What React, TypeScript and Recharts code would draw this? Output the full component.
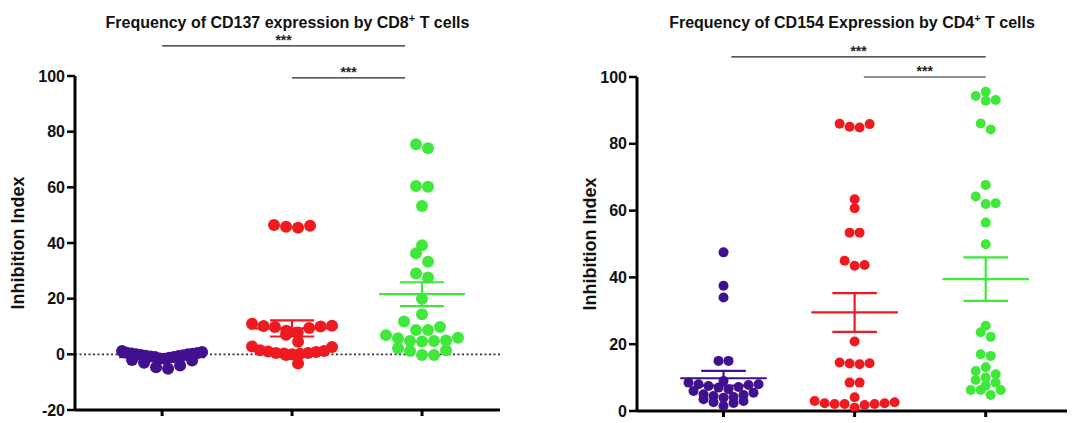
import React from "react";
import { ScatterChart, Scatter, XAxis, YAxis, ReferenceLine } from "recharts";

const GROUP_X = [1, 2, 3];
const GROUP_COLORS = ["#40108f", "#ef1a1f", "#3fe83b"];

// CD137 / CD8+ panel
const CD137_PURPLE = [1.2, 0.8, 0.6, 0.5, 0.3, 0.2, 0, 0, -0.2, -0.3, -0.5, -0.6, -0.8, -1, -1, -1.2, -1.5, -1.6, -2, -2.2, -3, -4, -4.6, -5.2];
const CD137_RED = [46.5, 46.2, 45.8, 45.5, 11, 10.3, 10.2, 10, 9.8, 9.5, 8.5, 7.8, 7, 4.5, 2.8, 2.6, 1.5, 1.2, 1, 0.8, 0.5, 0.5, 0.3, 0.2, 0, -0.2, -3.3];
const CD137_GREEN = [75.5, 74, 60.5, 60.2, 53.3, 39.2, 36.3, 33.3, 29, 27.6, 20, 14.4, 11.8, 9.8, 8.7, 8.7, 6.9, 6, 5.8, 5, 4.8, 4.8, 4.6, 2.2, 1.5, 1.2, -0.2, -0.2];
const CD137_MEAN = [-1.0, 9.3, 21.6];
const CD137_SEM = [0.4, 2.9, 4.3];
const CD137_TICKS = [-20, 0, 20, 40, 60, 80, 100];
const CD137_SIG_FROM = [1, 2];
const CD137_SIG_TO = [2.87, 2.87];
const CD137_SIG_LEVEL = [110.8, 99.3];

// CD154 / CD4+ panel
const CD154_PURPLE = [47.5, 37.5, 34, 15, 15, 9, 8.5, 8, 8, 7.8, 7.5, 7.2, 7, 6.5, 6, 5.5, 5, 4.8, 4.5, 4.2, 4, 3.5, 3, 2.6, 2.4, 1.5];
const CD154_RED = [86, 85.9, 85.1, 84.9, 63.4, 60.7, 53.4, 53.4, 45, 43.7, 43.5, 20.8, 14.5, 14.3, 14.2, 14, 8.5, 8.5, 4.1, 3, 2.6, 2.3, 2.3, 2.1, 2.1, 2.1, 1.8, 1];
const CD154_GREEN = [95.6, 94.3, 93.1, 92.9, 86.1, 84.3, 67.7, 64.2, 62.2, 62, 56.4, 49.9, 25.5, 23.6, 22.2, 17, 16.5, 13.1, 12, 11, 10, 9.3, 8.5, 7.6, 6.3, 6.3, 6.3, 4.8];
const CD154_MEAN = [9.8, 29.5, 39.5];
const CD154_SEM = [2.2, 5.8, 6.5];
const CD154_TICKS = [0, 20, 40, 60, 80, 100];
const CD154_SIG_FROM = [1.06, 2.07];
const CD154_SIG_TO = [3, 3];
const CD154_SIG_LEVEL = [106, 100];

const FONT = "'Liberation Sans', Arial, sans-serif";

// Prism-style scatter: bin close values into rows, spread each row sideways
// from the centre out, squeezing a row when it would get wider than maxHalf px
function swarm(values: number[], center: number, pxX: number, pxY: number, r: number, maxHalf: number) {
  const order = values.map((_, i) => i).sort((a, b) => values[a] - values[b]);
  const rows: number[][] = [];
  let start = -Infinity;
  for (const i of order) {
    const y = values[i] * pxY;
    if (y - start > r * 1.5) {
      rows.push([]);
      start = y;
    }
    rows[rows.length - 1].push(i);
  }
  const out: { x: number; y: number }[] = new Array(values.length);
  for (const row of rows) {
    const n = row.length;
    const sp = n > 1 ? Math.min(r * 2, (maxHalf * 2) / (n - 1)) : 0;
    const slots = row
      .map((_, j) => (j - (n - 1) / 2) * sp)
      .sort((a, b) => Math.abs(a) - Math.abs(b) || b - a);
    // lowest value of the row sits in the middle, the rest fan outwards
    row.forEach((idx, j) => {
      out[idx] = { x: center + slots[j] / pxX, y: values[idx] };
    });
  }
  return out;
}

interface PanelProps {
  title: React.ReactNode;
  left: number;
  width: number;
  margin: { top: number; right: number; bottom: number; left: number };
  yAxisWidth: number;
  labelOffset: number;
  xDomain: [number, number];
  yTicks: number[];
  groups: number[][];
  means: number[];
  sems: number[];
  sigFrom: number[];
  sigTo: number[];
  sigLevel: number[];
  dotR: number;
  maxHalf: number;
  zeroLine?: boolean;
}

function Panel(p: PanelProps) {
  const height = 423;
  const xAxisHeight = 10;
  const plotW = p.width - p.margin.left - p.margin.right - p.yAxisWidth;
  const plotH = height - p.margin.top - p.margin.bottom - xAxisHeight;
  const yMin = p.yTicks[0];
  const yMax = p.yTicks[p.yTicks.length - 1];
  const pxX = plotW / (p.xDomain[1] - p.xDomain[0]);
  const pxY = plotH / (yMax - yMin);
  const plotLeft = p.margin.left + p.yAxisWidth;

  return (
    <div style={{ position: "absolute", left: p.left, top: 0, width: p.width, height }}>
      <div
        style={{
          position: "absolute",
          left: plotLeft + plotW / 2 - 300,
          width: 600,
          top: 8,
          textAlign: "center",
          fontFamily: FONT,
          fontWeight: "bold",
          fontSize: 16,
          lineHeight: "20px",
          color: "#111",
        }}
      >
        {p.title}
      </div>
      <ScatterChart width={p.width} height={height} margin={p.margin}>
        <XAxis
          type="number"
          dataKey="x"
          domain={p.xDomain}
          allowDataOverflow
          ticks={GROUP_X}
          tickFormatter={() => ""}
          height={xAxisHeight}
          tickSize={6}
          axisLine={{ stroke: "#000", strokeWidth: 3 }}
          tickLine={{ stroke: "#000", strokeWidth: 3 }}
        />
        <YAxis
          type="number"
          dataKey="y"
          domain={[yMin, yMax]}
          allowDataOverflow
          ticks={p.yTicks}
          interval={0}
          width={p.yAxisWidth}
          tickSize={8}
          axisLine={{ stroke: "#000", strokeWidth: 3 }}
          tickLine={{ stroke: "#000", strokeWidth: 2.5 }}
          tick={{ fill: "#111", fontSize: 16, fontWeight: "bold", fontFamily: FONT }}
          label={{
            value: "Inhibition Index",
            angle: -90,
            position: "insideLeft",
            offset: p.labelOffset,
            style: { textAnchor: "middle", fill: "#111", fontSize: 18, fontWeight: "bold", fontFamily: FONT },
          }}
        />
        {p.zeroLine && (
          <ReferenceLine y={0} stroke="#333" strokeWidth={1.6} strokeDasharray="2 2.5" />
        )}
        {p.groups.map((vals, g) => (
          <Scatter
            key={g}
            data={swarm(vals, GROUP_X[g], pxX, pxY, p.dotR, p.maxHalf)}
            fill={GROUP_COLORS[g]}
            isAnimationActive={false}
            shape={(s: any) => <circle cx={s.cx} cy={s.cy} r={p.dotR} fill={GROUP_COLORS[g]} />}
          />
        ))}
        {p.means.map((m, g) => {
          const c = GROUP_X[g];
          const hi = m + p.sems[g];
          const lo = m - p.sems[g];
          const col = GROUP_COLORS[g];
          return [
            <ReferenceLine key={`m${g}`} segment={[{ x: c - 0.33, y: m }, { x: c + 0.33, y: m }]} stroke={col} strokeWidth={2.2} ifOverflow="visible" />,
            <ReferenceLine key={`h${g}`} segment={[{ x: c - 0.17, y: hi }, { x: c + 0.17, y: hi }]} stroke={col} strokeWidth={2.2} ifOverflow="visible" />,
            <ReferenceLine key={`l${g}`} segment={[{ x: c - 0.17, y: lo }, { x: c + 0.17, y: lo }]} stroke={col} strokeWidth={2.2} ifOverflow="visible" />,
            <ReferenceLine key={`v${g}`} segment={[{ x: c, y: lo }, { x: c, y: hi }]} stroke={col} strokeWidth={2.2} ifOverflow="visible" />,
          ];
        })}
        {p.sigLevel.map((lvl, i) => (
          <ReferenceLine
            key={`s${i}`}
            segment={[{ x: p.sigFrom[i], y: lvl }, { x: p.sigTo[i], y: lvl }]}
            stroke="#222"
            strokeWidth={1.2}
            ifOverflow="visible"
            label={{ value: "***", position: "top", offset: 1, fill: "#222", fontSize: 14, fontWeight: "bold", fontFamily: FONT }}
          />
        ))}
      </ScatterChart>
    </div>
  );
}

export default function App() {
  return (
    <div style={{ position: "relative", width: 1075, height: 423, background: "#fff" }}>
      <style>{`body{margin:0}`}</style>
      <Panel
        title={<span>Frequency of CD137 expression by CD8<sup style={{ fontSize: 11 }}>+</sup> T cells</span>}
        left={0}
        width={540}
        margin={{ top: 76, right: 40, bottom: 3, left: 5 }}
        yAxisWidth={70}
        labelOffset={13}
        xDomain={[0.33, 3.6]}
        yTicks={CD137_TICKS}
        groups={[CD137_PURPLE, CD137_RED, CD137_GREEN]}
        means={CD137_MEAN}
        sems={CD137_SEM}
        sigFrom={CD137_SIG_FROM}
        sigTo={CD137_SIG_TO}
        sigLevel={CD137_SIG_LEVEL}
        dotR={6}
        maxHalf={40}
        zeroLine
      />
      <Panel
        title={<span>Frequency of CD154 Expression by CD4<sup style={{ fontSize: 11 }}>+</sup> T cells</span>}
        left={545}
        width={530}
        margin={{ top: 77, right: 8, bottom: 2, left: 25 }}
        yAxisWidth={67}
        labelOffset={20}
        xDomain={[0.34, 3.62]}
        yTicks={CD154_TICKS}
        groups={[CD154_PURPLE, CD154_RED, CD154_GREEN]}
        means={CD154_MEAN}
        sems={CD154_SEM}
        sigFrom={CD154_SIG_FROM}
        sigTo={CD154_SIG_TO}
        sigLevel={CD154_SIG_LEVEL}
        dotR={5}
        maxHalf={40}
      />
    </div>
  );
}
